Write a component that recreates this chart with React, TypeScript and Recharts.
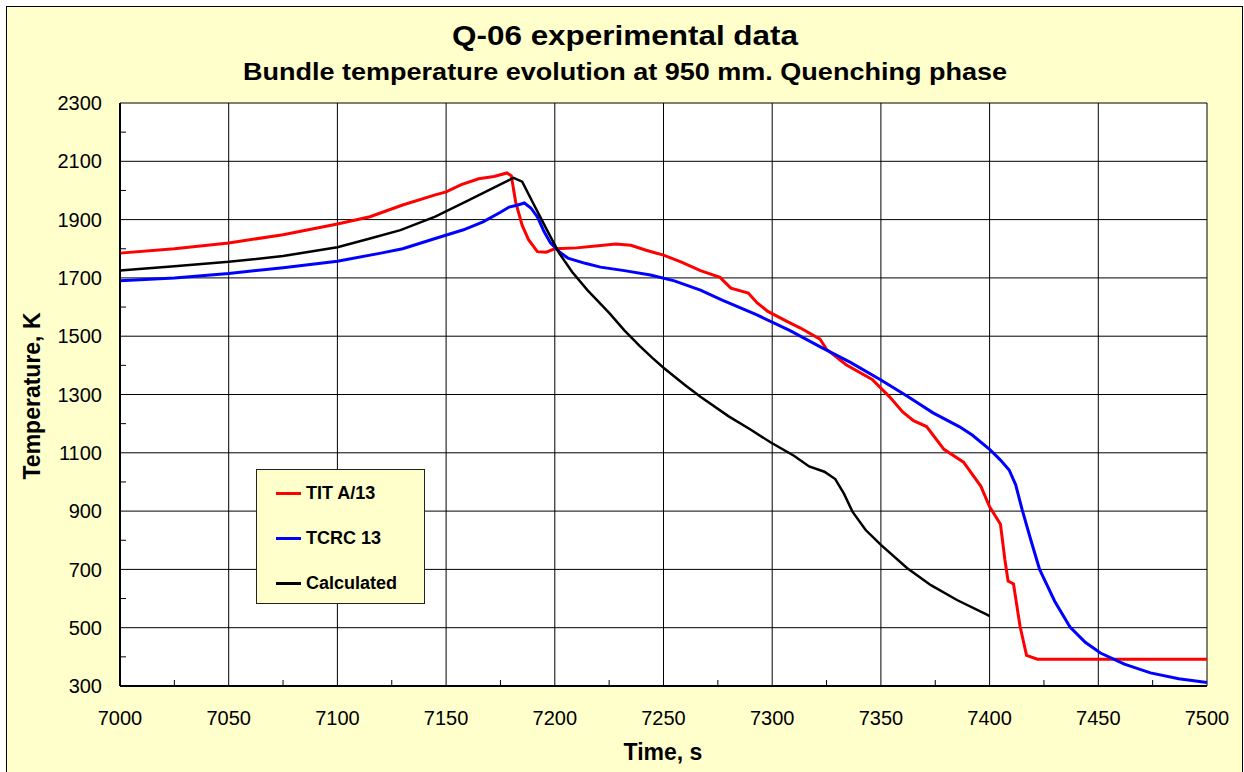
import { LineChart, Line, XAxis, YAxis, CartesianGrid, Legend } from 'recharts';

const FONT = "Arial, 'Liberation Sans', sans-serif";

// axes
const X_DOMAIN = [7000, 7500];
const Y_DOMAIN = [300, 2300];
const X_TICKS = [7000, 7050, 7100, 7150, 7200, 7250, 7300, 7350, 7400, 7450, 7500];
const X_MINOR = [7025, 7075, 7125, 7175, 7225, 7275, 7325, 7375, 7425, 7475];
const Y_TICKS = [300, 500, 700, 900, 1100, 1300, 1500, 1700, 1900, 2100, 2300];
const Y_MINOR = [400, 600, 800, 1000, 1200, 1400, 1600, 1800, 2000, 2200];

const SERIES_NAMES = ['TIT A/13', 'TCRC 13', 'Calculated'];
const SERIES_COLORS = ['#ff0000', '#0000ff', '#000000'];

// TIT A/13 (measured)
const TIT_TIME = [
  7000, 7025, 7050, 7075, 7100, 7115, 7130, 7145, 7150, 7157, 7165, 7172, 7178, 7180, 7182, 7185, 7188,
  7192, 7196, 7200, 7210, 7220, 7228, 7235, 7242, 7250, 7258, 7267, 7276, 7281, 7289, 7293, 7298, 7307,
  7313, 7322, 7325, 7334, 7346, 7354, 7360, 7365, 7371, 7379, 7388, 7396, 7400, 7405, 7407, 7408.5,
  7411, 7414, 7417, 7422, 7450, 7500,
];
const TIT_TEMP = [
  1785, 1800, 1820, 1848, 1885, 1910, 1950, 1985, 1995, 2020, 2040, 2048, 2060, 2050, 1960, 1880, 1830,
  1790, 1788, 1800, 1803, 1810, 1816, 1812, 1795, 1778, 1755, 1725, 1702, 1665, 1648, 1615, 1585, 1550,
  1528, 1490, 1455, 1402, 1352, 1292, 1240, 1210, 1190, 1112, 1068, 985, 915, 855, 735, 660,
  650, 505, 405, 392, 392, 392,
];

// TCRC 13 (measured)
const TCRC_TIME = [
  7000, 7025, 7050, 7075, 7100, 7120, 7130, 7145, 7158, 7167, 7175, 7179, 7183, 7186, 7189, 7192, 7195,
  7198, 7202, 7206, 7214, 7221, 7232, 7244, 7255, 7267, 7277, 7293, 7308, 7323, 7336, 7350, 7362, 7374,
  7386, 7392, 7400, 7405, 7409, 7412, 7415, 7419, 7423, 7430, 7437, 7444, 7451, 7462, 7474, 7487, 7500,
];
const TCRC_TEMP = [
  1690, 1700, 1715, 1735, 1757, 1785, 1800, 1835, 1865, 1892, 1925, 1943, 1950, 1957, 1940, 1909, 1860,
  1820, 1790, 1768, 1750, 1737, 1725, 1710, 1690, 1658, 1624, 1573, 1520, 1460, 1410, 1350, 1295, 1237,
  1190, 1161, 1112, 1075, 1041, 990, 904, 800, 700, 590, 502, 450, 413, 375, 345, 325, 312,
];

// Calculated
const CALC_TIME = [
  7000, 7025, 7050, 7075, 7100, 7115, 7129, 7145, 7160, 7172, 7181, 7185, 7190, 7196, 7202, 7208, 7215,
  7225, 7232, 7239, 7245, 7250, 7260, 7267, 7280, 7290, 7299, 7310, 7317, 7324, 7329, 7333, 7337, 7343,
  7350, 7362, 7373, 7385, 7399, 7400,
];
const CALC_TEMP = [
  1725, 1740, 1755, 1775, 1805, 1835, 1864, 1910, 1965, 2010, 2043, 2030, 1957, 1870, 1785, 1720, 1658,
  1580, 1520, 1467, 1425, 1392, 1332, 1292, 1225, 1180, 1137, 1090, 1053, 1035, 1010, 960, 897, 835,
  784, 705, 646, 595, 544, 540,
];

const toPoints = (time: number[], temp: number[]) => time.map((t, i) => ({ time: t, temp: temp[i] }));

const SERIES = [
  toPoints(TIT_TIME, TIT_TEMP),
  toPoints(TCRC_TIME, TCRC_TEMP),
  toPoints(CALC_TIME, CALC_TEMP),
];

const X_ALL = [...X_TICKS, ...X_MINOR].sort((a, b) => a - b);
const Y_ALL = [...Y_TICKS, ...Y_MINOR].sort((a, b) => a - b);

const X_MARGIN = 25;
const Y_MARGIN = 18;
const MINOR_LEN = 6;

// major ticks get a label, minor ticks a short mark inside the plot
const XTick = (props: any) => {
  const { x, y, payload } = props;
  if (!X_TICKS.includes(payload.value)) {
    const y0 = y - X_MARGIN;
    return <line x1={x} x2={x} y1={y0} y2={y0 - MINOR_LEN} stroke="#000" strokeWidth={1} />;
  }
  return (
    <text x={x} y={y} dy="0.71em" textAnchor="middle" fontFamily={FONT} fontSize={20} fill="#000">
      {payload.value}
    </text>
  );
};

const YTick = (props: any) => {
  const { x, y, payload } = props;
  if (!Y_TICKS.includes(payload.value)) {
    const x0 = x + Y_MARGIN;
    return <line x1={x0} x2={x0 + MINOR_LEN} y1={y} y2={y} stroke="#000" strokeWidth={1} />;
  }
  return (
    <text x={x} y={y} dy="0.355em" textAnchor="end" fontFamily={FONT} fontSize={20} fill="#000">
      {payload.value}
    </text>
  );
};

// grid only on the major ticks; use the axis scale when the generator gets one
const gridX = ({ xAxis, offset }: any) =>
  X_TICKS.map((v) =>
    typeof xAxis?.scale === 'function'
      ? xAxis.scale(v)
      : offset.left + ((v - X_DOMAIN[0]) / (X_DOMAIN[1] - X_DOMAIN[0])) * offset.width
  );
const gridY = ({ yAxis, offset }: any) =>
  Y_TICKS.map((v) =>
    typeof yAxis?.scale === 'function'
      ? yAxis.scale(v)
      : offset.top + (1 - (v - Y_DOMAIN[0]) / (Y_DOMAIN[1] - Y_DOMAIN[0])) * offset.height
  );

const XTitle = () => (
  <text x={656} y={753} textAnchor="middle" fontFamily={FONT} fontSize={23} fontWeight="bold" fill="#000">
    Time, s
  </text>
);

const YTitle = () => (
  <text
    x={33}
    y={389}
    textAnchor="middle"
    transform="rotate(-90, 33, 389)"
    fontFamily={FONT}
    fontSize={23}
    fontWeight="bold"
    fill="#000"
  >
    Temperature, K
  </text>
);

const LegendBox = () => (
  <div
    style={{
      width: 169,
      height: 135,
      boxSizing: 'border-box',
      border: '1px solid #222',
      background: '#FFFFCC',
      position: 'relative',
    }}
  >
    {SERIES_NAMES.map((name, i) => (
      <div
        key={name}
        style={{ position: 'absolute', left: 19, top: 12 + i * 45, height: 22, display: 'flex', alignItems: 'center' }}
      >
        <span style={{ display: 'inline-block', width: 25, height: 3, background: SERIES_COLORS[i], marginRight: 5 }} />
        <span style={{ fontFamily: FONT, fontWeight: 'bold', fontSize: 18, color: '#000', whiteSpace: 'nowrap' }}>
          {name}
        </span>
      </div>
    ))}
  </div>
);

export default function App() {
  return (
    <div
      style={{
        position: 'absolute',
        left: 6,
        top: 6,
        width: 1235,
        height: 766,
        border: '1px solid #000',
        background: '#FFFFCC',
        fontFamily: FONT,
      }}
    >
      <svg style={{ position: 'absolute', left: 0, top: 0 }} width={1235} height={96}>
        <text x={618} y={38} textAnchor="middle" fontFamily={FONT} fontSize={28} fontWeight="bold" fill="#000"
          textLength={346} lengthAdjust="spacingAndGlyphs">
          Q-06 experimental data
        </text>
        <text x={618} y={73} textAnchor="middle" fontFamily={FONT} fontSize={24} fontWeight="bold" fill="#000"
          textLength={764} lengthAdjust="spacingAndGlyphs">
          Bundle temperature evolution at 950 mm. Quenching phase
        </text>
      </svg>

      <LineChart width={1235} height={766} margin={{ top: 96, right: 35, bottom: 0, left: 0 }}>
        <CartesianGrid
          stroke="#000"
          strokeWidth={1}
          fill="#fff"
          fillOpacity={1}
          verticalCoordinatesGenerator={gridX}
          horizontalCoordinatesGenerator={gridY}
        />
        <XAxis
          dataKey="time"
          type="number"
          domain={X_DOMAIN}
          ticks={X_ALL}
          interval={0}
          height={87}
          tick={XTick}
          tickLine={false}
          tickSize={0}
          tickMargin={X_MARGIN}
          axisLine={{ stroke: '#000', strokeWidth: 2 }}
          label={<XTitle />}
        />
        <YAxis
          type="number"
          domain={Y_DOMAIN}
          ticks={Y_ALL}
          interval={0}
          width={113}
          tick={YTick}
          tickLine={false}
          tickSize={0}
          tickMargin={Y_MARGIN}
          axisLine={{ stroke: '#000', strokeWidth: 2 }}
          label={<YTitle />}
        />
        <Legend
          layout="vertical"
          align="center"
          verticalAlign="middle"
          wrapperStyle={{ left: 249, top: 462, width: 169, height: 135 }}
          content={<LegendBox />}
        />
        {SERIES.map((points, i) => (
          <Line
            key={SERIES_NAMES[i]}
            data={points}
            dataKey="temp"
            name={SERIES_NAMES[i]}
            type="linear"
            stroke={SERIES_COLORS[i]}
            strokeWidth={i === 2 ? 2.5 : 3}
            dot={false}
            activeDot={false}
            isAnimationActive={false}
          />
        ))}
      </LineChart>
    </div>
  );
}
